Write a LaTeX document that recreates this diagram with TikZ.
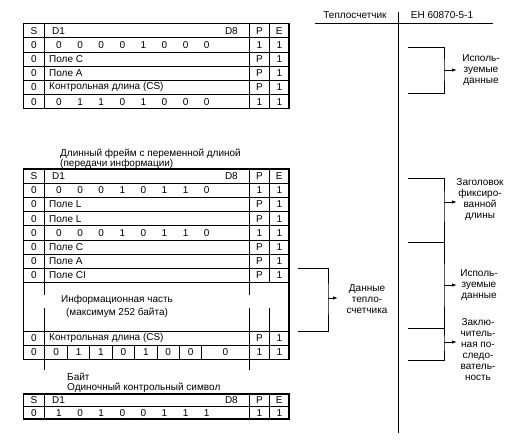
\documentclass[tikz,border=0pt]{standalone}
\usepackage{fontspec}
\setmainfont{Liberation Sans}
\usetikzlibrary{arrows.meta,positioning}

\begin{document}
\begin{tikzpicture}[x=1pt,y=-1pt,
  every node/.style={font=\fontsize{10}{11}\selectfont},
  cell/.style={inner sep=0pt},
  field/.style={inner sep=0pt, anchor=west},
  note/.style={align=center, inner sep=0pt},
  caption/.style={align=left, anchor=west, inner sep=0pt, font=\fontsize{10}{10}\selectfont},
  grid/.style={line width=0.8pt},
  frame/.style={line width=1.1pt},
  brace/.style={line width=0.9pt},
  arr/.style={line width=0.9pt, -{Latex[length=5pt,width=3.5pt]}}]

  \useasboundingbox (0,0) rectangle (522,440);

  % Short frame

  \draw[frame] (23.5,23.5) rectangle (289,108.7);
  \foreach \y in {37.7,51.9,66.1,80.3,94.5} \draw[grid] (23.5,\y) -- (289,\y);
  \draw[grid] (44,23.5) -- (44,108.7) (249.5,23.5) -- (249.5,108.7) (269.5,23.5) -- (269.5,108.7);

  \node[cell]              (sA)  at (34,30.6)    {S};
  \node[field]             (d1A) at (52,30.6)    {D1};
  \node[cell, anchor=east] (d8A) at (238,30.6)   {D8};
  \node[cell]              (pA)  at (259.5,30.6) {P};
  \node[cell]              (eA)  at (279.3,30.6) {E};
  \foreach \y/\p [count=\i] in {44.8/1,59/P,73.2/P,87.4/P,101.6/1} {
    \node[cell] (sA\i) at (34,\y)    {0};
    \node[cell] (pA\i) at (259.5,\y) {\p};
    \node[cell] (eA\i) at (279.3,\y) {1};
  }
  \foreach \b [count=\i] in {0,0,0,0,1,0,0,0}
    \node[cell] (startA\i) at ({59+21.1*(\i-1)},44.8) {\b};
  \node[field] (cA)  at (49,59)   {Поле C};
  \node[field] (aA)  at (49,73.2) {Поле A};
  \node[field] (csA) at (49,87.4) {Контрольная длина (CS)};
  \foreach \b [count=\i] in {0,1,1,0,1,0,0,0}
    \node[cell] (stopA\i) at ({59+21.1*(\i-1)},101.6) {\b};

  % Long frame

  \node[caption] (longcap) at (60,159) {Длинный фрейм с переменной длиной\\(передачи информации)};

  \draw[frame] (23.5,169) rectangle (289,359.4);
  \foreach \y in {183.2,197.4,211.6,225.8,240,254.2,268.4,282.6,331,345.2} \draw[grid] (23.5,\y) -- (289,\y);
  \foreach \x in {44,249.5} {
    \draw[grid] (\x,169) -- (\x,282.6);
    \draw[grid] (\x,282.6) -- (\x,295);
    \draw[grid] (\x,308) -- (\x,370);
  }
  \draw[grid] (269.5,169) -- (269.5,282.6) (269.5,308) -- (269.5,359.4);
  \foreach \x in {67.4,89.8,112.2,134.6,157,179.4,201.8} \draw[grid] (\x,345.2) -- (\x,359.4);

  \node[cell]              (sB)  at (34,176.1)    {S};
  \node[field]             (d1B) at (52,176.1)    {D1};
  \node[cell, anchor=east] (d8B) at (238,176.1)   {D8};
  \node[cell]              (pB)  at (259.5,176.1) {P};
  \node[cell]              (eB)  at (279.3,176.1) {E};
  \foreach \y/\p [count=\i] in {190.3/1,204.5/P,218.7/P,232.9/1,247.1/P,261.3/P,275.5/P,338.1/P,352.3/1} {
    \node[cell] (sB\i) at (34,\y)    {0};
    \node[cell] (pB\i) at (259.5,\y) {\p};
    \node[cell] (eB\i) at (279.3,\y) {1};
  }
  \foreach \b [count=\i] in {0,0,0,1,0,1,1,0} {
    \node[cell] (startB\i) at ({59+21.1*(\i-1)},190.3) {\b};
    \node[cell] (againB\i) at ({59+21.1*(\i-1)},232.9) {\b};
  }
  \node[field] (lB)  at (49,204.5) {Поле L};
  \node[field] (lB2) at (49,218.7) {Поле L};
  \node[field] (cB)  at (49,247.1) {Поле C};
  \node[field] (aB)  at (49,261.3) {Поле A};
  \node[field] (ciB) at (49,275.5) {Поле CI};
  \node[note, font=\fontsize{10}{12.5}\selectfont] (info) at (117,306.5) {Информационная часть\\(максимум 252 байта)};
  \node[field] (csB) at (49,338.1) {Контрольная длина (CS)};
  \foreach \b/\x [count=\i] in {0/56.2,1/78.6,1/101,0/123.4,1/145.8,0/168.2,0/190.6,0/225.4}
    \node[cell] (stopB\i) at (\x,352.3) {\b};

  % Single character

  \node[caption] (bytecap) at (67,383) {Байт\\Одиночный контрольный символ};

  \draw[frame] (23.5,394) rectangle (289,419);
  \draw[grid] (23.5,406.5) -- (289,406.5);
  \draw[grid] (44,394) -- (44,419) (249.5,394) -- (249.5,419) (269.5,394) -- (269.5,419);
  \node[cell]              (sC)  at (34,400.2)    {S};
  \node[field]             (d1C) at (52,400.2)    {D1};
  \node[cell, anchor=east] (d8C) at (238,400.2)   {D8};
  \node[cell]              (pC)  at (259.5,400.2) {P};
  \node[cell]              (eC)  at (279.3,400.2) {E};
  \node[cell] (sC1) at (34,412.7)    {0};
  \node[cell] (pC1) at (259.5,412.7) {1};
  \node[cell] (eC1) at (279.3,412.7) {1};
  \foreach \b [count=\i] in {1,0,1,0,0,1,1,1}
    \node[cell] (ackC\i) at ({59+21.1*(\i-1)},412.7) {\b};

  % Heat meter data

  \coordinate (ciTop) at (298,268.4);
  \coordinate (ciBot) at (298,331);
  \coordinate (ciMid) at (328,298);
  \coordinate (ciTip) at (338,298);
  \draw[brace] (ciTop) -| (ciMid) |- (ciBot);
  \draw[arr] (ciMid) -- (ciTip);
  \node[note] (meterdata) at (367,299) {Данные\\тепло-\\счетчика};

  % Columns

  \node[note] (meter) at (355,15) {Теплосчетчик};
  \node[note] (norm)  at (442,15) {ЕН 60870-5-1};
  \coordinate (rulL) at (315,23);
  \coordinate (rulR) at (493,23);
  \coordinate (rulT) at (398,12);
  \coordinate (rulB) at (398,433);
  \draw[brace] (rulL) -- (rulR);
  \draw[brace] (rulT) -- (rulB);

  % Brackets

  \coordinate (usedTop) at (408,47);
  \coordinate (usedBot) at (408,93);
  \coordinate (usedMid) at (444,70);
  \coordinate (usedTip) at (457,70);
  \draw[brace] (usedTop) -| (usedMid) |- (usedBot);
  \draw[arr] (usedMid) -- (usedTip);
  \node[note] (used) at (481,70) {Исполь-\\зуемые\\данные};

  \coordinate (headTop) at (408,178);
  \coordinate (headBot) at (408,242);
  \coordinate (headMid) at (444,202);
  \coordinate (headTip) at (457,202);
  \draw[brace] (headTop) -| (headMid) |- (headBot);
  \draw[arr] (headMid) -- (headTip);
  \node[note] (head) at (480,200) {Заголовок\\фиксиро-\\ванной\\длины};

  \coordinate (dataBot) at (408,328);
  \coordinate (dataMid) at (444,285);
  \coordinate (dataTip) at (457,285);
  \draw[brace] (headBot) -| (dataMid) |- (dataBot);
  \draw[arr] (dataMid) -- (dataTip);
  \node[note] (data) at (479,285) {Исполь-\\зуемые\\данные};

  \coordinate (tailBot) at (408,360);
  \coordinate (tailMid) at (444,342);
  \coordinate (tailTip) at (457,342);
  \draw[brace] (dataBot) -| (tailMid) |- (tailBot);
  \draw[arr] (tailMid) -- (tailTip);
  \node[note] (tail) at (478,350) {Заклю-\\читель-\\ная по-\\следо-\\ватель-\\ность};

\end{tikzpicture}
\end{document}
